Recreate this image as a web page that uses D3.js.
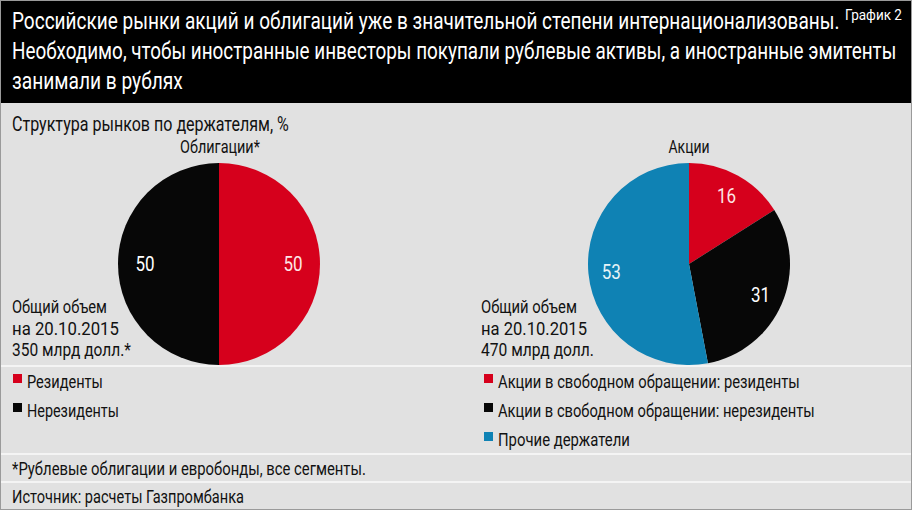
<!DOCTYPE html>
<html>
<head>
<meta charset="utf-8">
<script src="https://cdn.jsdelivr.net/npm/d3@7"></script>
<style>
  html, body { margin: 0; padding: 0; background: #e1e1e1; }
  svg { display: block; }
  text { font-family: Roboto, "Noto Sans", sans-serif; }
</style>
</head>
<body>
<svg id="chart" width="912" height="510"></svg>
<script>
// ---- Data ----
const titleLines = [
  "Российские рынки акций и облигаций уже в значительной степени интернационализованы.",
  "Необходимо, чтобы иностранные инвесторы покупали рублевые активы, а иностранные эмитенты",
  "занимали в рублях"
];
const chartTag = "График 2";
const subtitle = "Структура рынков по держателям, %";

const bondTitle = "Облигации*";
const bondCategories = ["Резиденты", "Нерезиденты"];
const bondValues = [50, 50];
const bondNote = ["Общий объем", "на 20.10.2015", "350 млрд долл.*"];

const stockTitle = "Акции";
const stockCategories = ["Акции в свободном обращении: резиденты", "Акции в свободном обращении: нерезиденты", "Прочие держатели"];
const stockValues = [16, 31, 53];
const stockNote = ["Общий объем", "на 20.10.2015", "470 млрд долл."];

const footnote = "*Рублевые облигации и евробонды, все сегменты.";
const source = "Источник: расчеты Газпромбанка";

const palette = ["#d6001c", "#070707", "#0f82b4"];

// ---- Drawing ----
const svg = d3.select("#chart");
const W = 912, H = 510;

svg.append("rect").attr("width", W).attr("height", H).attr("fill", "#e1e1e1");
svg.append("rect").attr("x", 0).attr("y", 0).attr("width", W).attr("height", 103).attr("fill", "#000");

[366, 454, 482].forEach(y => {
  svg.append("rect").attr("x", 0).attr("y", y - 1).attr("width", W).attr("height", 2).attr("fill", "#f4f4f4");
});
svg.append("rect").attr("x", 0.5).attr("y", 0.5).attr("width", W - 1).attr("height", H - 1)
  .attr("fill", "none").attr("stroke", "#9a9a9a").attr("stroke-width", 1);

// text condensed horizontally to a target width via scale transform
function txt(s, x, y, size, color, width, anchor) {
  const t = svg.append("text").attr("x", 0).attr("y", 0).attr("font-size", size)
    .attr("fill", color).text(s);
  const nat = t.node().getComputedTextLength();
  const k = width ? width / nat : 1;
  let x0 = x;
  if (anchor === "middle") x0 = x - (width || nat) / 2;
  t.attr("transform", `translate(${x0},${y}) scale(${k},1)`);
  return t;
}

// title
const titleWidths = [828, 885, 171];
const titleBase = [29, 59, 89];
titleLines.forEach((l, i) => txt(l, 12, titleBase[i], 23, "#fff", titleWidths[i]));
txt(chartTag, 845, 20, 15, "#fff", 57);

txt(subtitle, 12, 131, 20, "#111", 277);

// pies
const pie = d3.pie().sort(null).value(d => d);
const R = 101;
const arc = d3.arc().innerRadius(0).outerRadius(R);

function drawPie(cx, cy, values, colors, labelR, labelColors) {
  const g = svg.append("g").attr("transform", `translate(${cx},${cy})`);
  const arcs = pie(values);
  g.selectAll("path").data(arcs).join("path")
    .attr("d", arc).attr("fill", (d, i) => colors[i]);
  const la = d3.arc().innerRadius(labelR).outerRadius(labelR);
  g.selectAll("text").data(arcs).join("text")
    .attr("transform", d => { const c = la.centroid(d); return `translate(${c[0]},${c[1]}) scale(0.85,1)`; })
    .attr("text-anchor", "middle").attr("dy", "0.36em")
    .attr("font-size", 20).attr("fill", (d, i) => labelColors[i])
    .text(d => d.data);
}

drawPie(219, 264, bondValues, [palette[0], palette[1]], 74, ["#fde6e6", "#ffffff"]);
drawPie(689, 264, stockValues, palette, 78, ["#fde6e6", "#ffffff", "#e8f4f8"]);

txt(bondTitle, 220, 153, 18, "#111", 80, "middle");
txt(stockTitle, 689, 153, 18, "#111", 41, "middle");

const noteBase = [313, 335, 356];
const bondNoteW = [95, 107, 119];
const stockNoteW = [96, 106, 113];
bondNote.forEach((s, i) => txt(s, 12, noteBase[i], 19, "#111", bondNoteW[i]));
stockNote.forEach((s, i) => txt(s, 481, noteBase[i], 19, "#111", stockNoteW[i]));

// legends
const legBase = [388, 417, 446];
const bondLegW = [76, 92];
bondCategories.forEach((c, i) => {
  svg.append("rect").attr("x", 13).attr("y", legBase[i] - 14).attr("width", 9).attr("height", 9).attr("fill", palette[i]);
  txt(c, 27, legBase[i], 18, "#111", bondLegW[i]);
});
const stockLegW = [302, 317, 132];
stockCategories.forEach((c, i) => {
  svg.append("rect").attr("x", 484).attr("y", legBase[i] - 14).attr("width", 9).attr("height", 9).attr("fill", palette[i]);
  txt(c, 498, legBase[i], 18, "#111", stockLegW[i]);
});

txt(footnote, 12, 475, 18, "#111", 354);
txt(source, 12, 503, 18, "#111", 232);
</script>
</body>
</html>
